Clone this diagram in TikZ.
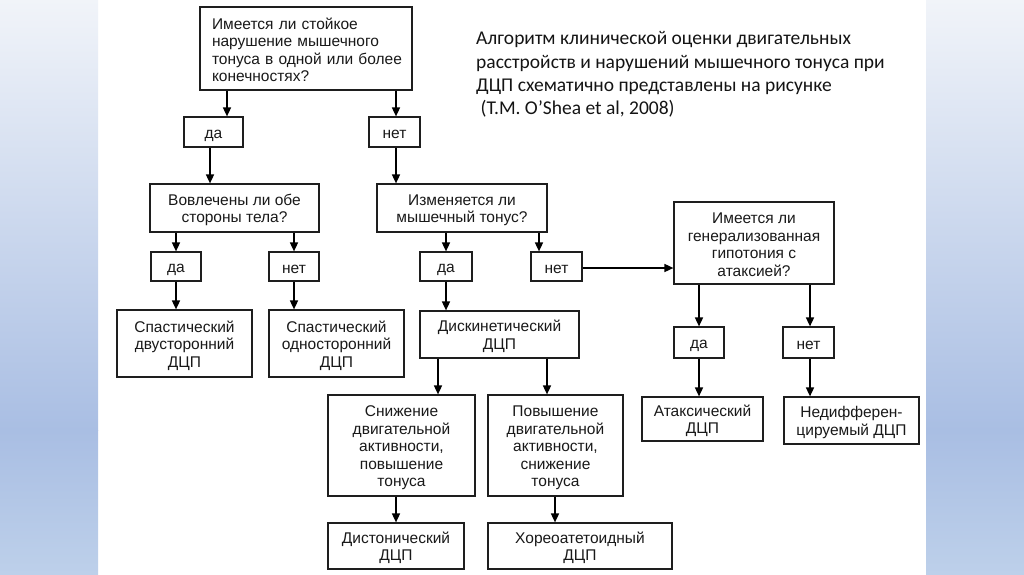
\documentclass[tikz,border=0pt]{standalone}
\usepackage{fontspec}
\setmainfont{Liberation Sans}
\newfontfamily\calib{Carlito}
\usetikzlibrary{arrows.meta}
\definecolor{bgtop}{HTML}{F1F4F9}
\definecolor{bgmid}{HTML}{A9BEE3}
\definecolor{bgbot}{HTML}{BDD0EA}
\definecolor{edge}{HTML}{1E1E1E}
\newcommand\Tx[1]{\rule{0pt}{1.0em}#1\rule[-0.1em]{0pt}{0pt}}
\begin{document}
\begin{tikzpicture}[x=1pt,y=-1pt,
  bx/.style={draw=edge, line width=1.2pt, inner sep=0pt, align=center,
    font=\fontsize{15.5}{17.5}\selectfont, text=black!90},
  arr/.style={-{Triangle[length=9pt,width=8pt]}, line width=1.6pt, draw=black}]
\useasboundingbox (0,0) rectangle (1024,574);
\fill[white] (0,0) rectangle (1024,574);
% side strips
\shade[top color=bgtop, bottom color=bgmid] (0,0) rectangle (98,430);
\shade[top color=bgmid, bottom color=bgbot] (0,430) rectangle (98,574);
\shade[top color=bgtop, bottom color=bgmid] (926,0) rectangle (1024,430);
\shade[top color=bgmid, bottom color=bgbot] (926,430) rectangle (1024,574);

% title
\node[anchor=base west, align=left, inner sep=0pt, text=black!92,
  font=\calib\fontsize{19.5}{23.2}\selectfont] (title) at (476,114.5)
  {Алгоритм клинической оценки двигательных\\
   расстройств и нарушений мышечного тонуса при\\
   ДЦП схематично представлены на рисунке\\
   \ (T.M. O’Shea et al, 2008)};

% nodes
\node[bx, minimum width=212pt, minimum height=83pt, text width=188pt, align=left] (q1) at (306,48.5)
  {\Tx{\makebox[188pt][s]{Имеется ли стойкое}\\
   \makebox[188pt][s]{нарушение мышечного}\\
   \makebox[188pt][s]{тонуса в одной или более}\\
   конечностях?}};
\node[bx, minimum width=59pt, minimum height=30pt] (yes1) at (213.5,132) {\Tx{да}};
\node[bx, minimum width=51pt, minimum height=30pt] (no1) at (394.5,132) {\Tx{нет}};

\node[bx, minimum width=169pt, minimum height=48pt] (q2) at (234.5,208) {\Tx{Вовлечены ли обе\\стороны тела?}};
\node[bx, minimum width=170pt, minimum height=48pt] (q3) at (462,208) {\Tx{Изменяется ли\\мышечный тонус?}};

\node[bx, minimum width=50pt, minimum height=29pt] (yes2) at (176,266.5) {\Tx{да}};
\node[bx, minimum width=50pt, minimum height=29pt] (no2) at (294,266.5) {\Tx{нет}};
\node[bx, minimum width=52pt, minimum height=29pt] (yes3) at (446,266.5) {\Tx{да}};
\node[bx, minimum width=51pt, minimum height=29pt] (no3) at (556.5,266.5) {\Tx{нет}};

\node[bx, minimum width=135pt, minimum height=67pt] (r1) at (184.5,343.5) {\Tx{Спастический\\двусторонний\\ДЦП}};
\node[bx, minimum width=135pt, minimum height=67pt] (r2) at (336.5,343.5) {\Tx{Спастический\\односторонний\\ДЦП}};
\node[bx, minimum width=159pt, minimum height=47pt] (dys) at (499.5,334.5) {\Tx{Дискинетический\\ДЦП}};

\node[bx, minimum width=160pt, minimum height=82pt] (q4) at (754,243) {\Tx{Имеется ли\\генерализованная\\гипотония с\\атаксией?}};
\node[bx, minimum width=50pt, minimum height=31pt] (yes4) at (699,342.5) {\Tx{да}};
\node[bx, minimum width=51pt, minimum height=31pt] (no4) at (808.5,342.5) {\Tx{нет}};
\node[bx, minimum width=121pt, minimum height=44pt] (atax) at (702.5,419) {\Tx{Атаксический\\ДЦП}};
\node[bx, minimum width=135pt, minimum height=47pt] (nedif) at (851.5,420.5) {\Tx{Недифферен-\\цируемый ДЦП}};

\node[bx, minimum width=147pt, minimum height=101pt] (low) at (401.5,445.5) {\Tx{Снижение\\двигательной\\активности,\\повышение\\тонуса}};
\node[bx, minimum width=135pt, minimum height=101pt] (high) at (555.5,445.5) {\Tx{Повышение\\двигательной\\активности,\\снижение\\тонуса}};
\node[bx, minimum width=136pt, minimum height=46pt] (dist) at (396,546) {\Tx{Дистонический\\ДЦП}};
\node[bx, minimum width=184pt, minimum height=46pt] (chor) at (580,546) {\Tx{Хореоатетоидный\\ДЦП}};

% connectors
\draw[arr] ([xshift=13.5pt]yes1.north |- q1.south) -- ([xshift=13.5pt]yes1.north);
\draw[arr] ([xshift=1.5pt]no1.north |- q1.south) -- ([xshift=1.5pt]no1.north);
\draw[arr] ([xshift=-3.5pt]yes1.south) -- ([xshift=-3.5pt]yes1.south |- q2.north);
\draw[arr] ([xshift=1.5pt]no1.south) -- ([xshift=1.5pt]no1.south |- q3.north);
\draw[arr] (yes2.north |- q2.south) -- (yes2.north);
\draw[arr] (no2.north |- q2.south) -- (no2.north);
\draw[arr] (yes2.south) -- (yes2.south |- r1.north);
\draw[arr] (no2.south) -- (no2.south |- r2.north);
\draw[arr] (yes3.north |- q3.south) -- (yes3.north);
\draw[arr] ([xshift=-17.5pt]no3.north |- q3.south) -- ([xshift=-17.5pt]no3.north);
\draw[arr] (yes3.south) -- (yes3.south |- dys.north);
\draw[arr] ([yshift=-1.5pt]no3.east) -- ([yshift=-1.5pt]no3.east -| q4.west);
\draw[arr] ([xshift=36.5pt]low.north |- dys.south) -- ([xshift=36.5pt]low.north);
\draw[arr] ([xshift=-8.5pt]high.north |- dys.south) -- ([xshift=-8.5pt]high.north);
\draw[arr] (dist.north |- low.south) -- (dist.north);
\draw[arr] ([xshift=-0.5pt]high.south) -- ([xshift=-0.5pt]high.south |- chor.north);
\draw[arr] (yes4.north |- q4.south) -- (yes4.north);
\draw[arr] ([xshift=1.5pt]no4.north |- q4.south) -- ([xshift=1.5pt]no4.north);
\draw[arr] (yes4.south) -- (yes4.south |- atax.north);
\draw[arr] ([xshift=1.5pt]no4.south) -- ([xshift=1.5pt]no4.south |- nedif.north);
\end{tikzpicture}
\end{document}
